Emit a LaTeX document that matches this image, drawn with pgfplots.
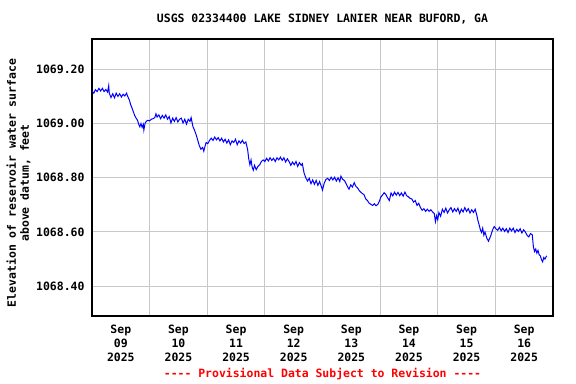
\documentclass[border=0pt]{standalone}
\usepackage{pgfplots}
\pgfplotsset{compat=1.18}
\usepackage{fontspec}
\newfontfamily\monob{DejaVu Sans Mono}
\newcommand\f{\fontsize{11.5}{13}\selectfont\monob\bfseries}
\newcommand\ft{\fontsize{11.5}{13.8}\selectfont\monob\bfseries}
\begin{document}
\begin{tikzpicture}
\path[use as bounding box] (0bp,0bp) rectangle (576bp,384bp);
\begin{axis}[
  at={(92bp,68bp)}, anchor=south west,
  scale only axis, width=461bp, height=277bp,
  xmin=0, xmax=8, ymin=1068.29, ymax=1069.312,
  axis line style={line width=1.4bp, black},
  xtick={0.5,1.5,...,7.5},
  xticklabels={{Sep\\09\\2025},{Sep\\10\\2025},{Sep\\11\\2025},{Sep\\12\\2025},{Sep\\13\\2025},{Sep\\14\\2025},{Sep\\15\\2025},{Sep\\16\\2025}},
  xticklabel style={align=center, font=\ft, yshift=-5.5bp},
  minor xtick={1,2,3,4,5,6,7},
  xminorgrids, ymajorgrids,
  ytick={1068.4,1068.6,1068.8,1069.0,1069.2},
  yticklabels={1068.40,1068.60,1068.80,1069.00,1069.20},
  yticklabel style={font=\f, xshift=-4bp},
  major tick length=0pt, minor tick length=0pt,
  grid style={line width=1bp, color={rgb,255:red,200;green,200;blue,200}},
  minor grid style={line width=1bp, color={rgb,255:red,200;green,200;blue,200}},
  clip=true,
]
\addplot[color={rgb,255:red,0;green,0;blue,255}, line width=1bp, mark=none] table {
0.00 1069.120
0.03 1069.112
0.06 1069.125
0.09 1069.118
0.12 1069.130
0.15 1069.120
0.18 1069.130
0.21 1069.118
0.24 1069.126
0.27 1069.116
0.29 1069.140
0.30 1069.112
0.33 1069.096
0.36 1069.110
0.39 1069.095
0.42 1069.112
0.45 1069.100
0.48 1069.110
0.51 1069.098
0.54 1069.108
0.57 1069.102
0.60 1069.112
0.62 1069.100
0.65 1069.086
0.67 1069.070
0.69 1069.060
0.71 1069.048
0.74 1069.030
0.76 1069.022
0.79 1069.012
0.81 1068.998
0.83 1068.988
0.85 1069.000
0.87 1068.986
0.89 1068.997
0.90 1068.976
0.92 1069.000
0.94 1069.008
0.97 1069.012
1.00 1069.010
1.03 1069.016
1.06 1069.018
1.09 1069.022
1.11 1069.036
1.13 1069.024
1.16 1069.032
1.19 1069.018
1.22 1069.030
1.25 1069.020
1.28 1069.032
1.31 1069.016
1.34 1069.026
1.37 1069.002
1.40 1069.020
1.43 1069.008
1.46 1069.022
1.49 1069.006
1.52 1069.016
1.55 1069.020
1.58 1069.002
1.61 1069.016
1.64 1068.998
1.67 1069.016
1.70 1069.008
1.72 1069.022
1.75 1068.990
1.78 1068.975
1.81 1068.957
1.84 1068.935
1.86 1068.920
1.89 1068.905
1.92 1068.912
1.94 1068.898
1.96 1068.915
1.98 1068.930
2.01 1068.926
2.04 1068.938
2.07 1068.946
2.10 1068.938
2.13 1068.950
2.16 1068.940
2.19 1068.948
2.22 1068.936
2.25 1068.946
2.28 1068.932
2.31 1068.942
2.34 1068.928
2.37 1068.940
2.40 1068.922
2.43 1068.936
2.46 1068.930
2.49 1068.942
2.52 1068.922
2.55 1068.936
2.58 1068.928
2.61 1068.938
2.64 1068.926
2.67 1068.932
2.70 1068.905
2.72 1068.870
2.74 1068.848
2.76 1068.866
2.78 1068.838
2.80 1068.828
2.82 1068.846
2.85 1068.830
2.88 1068.842
2.91 1068.848
2.94 1068.860
2.97 1068.866
3.00 1068.860
3.03 1068.872
3.06 1068.862
3.09 1068.874
3.12 1068.864
3.15 1068.872
3.18 1068.860
3.21 1068.874
3.24 1068.866
3.27 1068.876
3.30 1068.864
3.33 1068.874
3.36 1068.858
3.39 1068.870
3.42 1068.860
3.45 1068.846
3.48 1068.858
3.51 1068.848
3.54 1068.860
3.57 1068.842
3.60 1068.856
3.63 1068.846
3.65 1068.852
3.68 1068.818
3.71 1068.800
3.74 1068.788
3.77 1068.798
3.80 1068.778
3.83 1068.792
3.86 1068.776
3.89 1068.790
3.92 1068.772
3.95 1068.786
3.98 1068.768
4.00 1068.755
4.03 1068.780
4.06 1068.794
4.09 1068.798
4.12 1068.790
4.15 1068.802
4.18 1068.792
4.21 1068.802
4.24 1068.788
4.27 1068.800
4.30 1068.786
4.32 1068.806
4.35 1068.794
4.38 1068.790
4.41 1068.778
4.44 1068.765
4.46 1068.758
4.49 1068.774
4.52 1068.766
4.55 1068.782
4.58 1068.768
4.61 1068.762
4.64 1068.752
4.66 1068.748
4.69 1068.742
4.72 1068.738
4.75 1068.722
4.78 1068.716
4.81 1068.706
4.84 1068.702
4.87 1068.698
4.90 1068.704
4.93 1068.697
4.96 1068.702
4.99 1068.715
5.01 1068.728
5.04 1068.736
5.07 1068.745
5.10 1068.738
5.13 1068.726
5.16 1068.716
5.19 1068.744
5.22 1068.733
5.25 1068.747
5.28 1068.736
5.31 1068.746
5.34 1068.734
5.37 1068.744
5.40 1068.732
5.43 1068.747
5.46 1068.734
5.49 1068.730
5.52 1068.724
5.55 1068.722
5.58 1068.710
5.61 1068.716
5.64 1068.698
5.67 1068.706
5.70 1068.690
5.73 1068.680
5.76 1068.686
5.79 1068.676
5.82 1068.684
5.85 1068.676
5.88 1068.682
5.91 1068.674
5.94 1068.668
5.96 1068.638
5.98 1068.660
6.00 1068.645
6.02 1068.672
6.05 1068.658
6.08 1068.684
6.11 1068.672
6.14 1068.688
6.17 1068.670
6.20 1068.682
6.23 1068.690
6.26 1068.674
6.29 1068.686
6.32 1068.676
6.35 1068.688
6.38 1068.668
6.41 1068.684
6.44 1068.674
6.47 1068.690
6.50 1068.676
6.53 1068.686
6.56 1068.670
6.59 1068.682
6.62 1068.672
6.65 1068.684
6.68 1068.660
6.70 1068.640
6.72 1068.625
6.74 1068.608
6.76 1068.598
6.78 1068.614
6.80 1068.588
6.82 1068.600
6.85 1068.578
6.88 1068.566
6.90 1068.576
6.92 1068.586
6.94 1068.600
6.96 1068.612
6.98 1068.620
7.01 1068.612
7.04 1068.606
7.07 1068.617
7.10 1068.604
7.13 1068.614
7.16 1068.602
7.19 1068.612
7.22 1068.598
7.25 1068.614
7.28 1068.604
7.31 1068.614
7.34 1068.598
7.37 1068.610
7.40 1068.602
7.43 1068.612
7.46 1068.596
7.49 1068.608
7.52 1068.600
7.55 1068.588
7.58 1068.582
7.61 1068.594
7.64 1068.590
7.66 1068.545
7.68 1068.528
7.70 1068.537
7.72 1068.522
7.74 1068.532
7.76 1068.516
7.78 1068.512
7.80 1068.498
7.82 1068.490
7.84 1068.506
7.86 1068.500
7.89 1068.512
};
\end{axis}
\node[font=\f] at (322.5bp,365bp) {USGS 02334400 LAKE SIDNEY LANIER NEAR BUFORD, GA};
\node[font=\f, rotate=90, align=center] at (18.5bp,201bp) {Elevation of reservoir water surface\\above datum, feet};
\node[font=\f, text={rgb,255:red,255;green,0;blue,0}] at (322.5bp,10bp) {---- Provisional Data Subject to Revision ----};
\end{tikzpicture}
\end{document}
